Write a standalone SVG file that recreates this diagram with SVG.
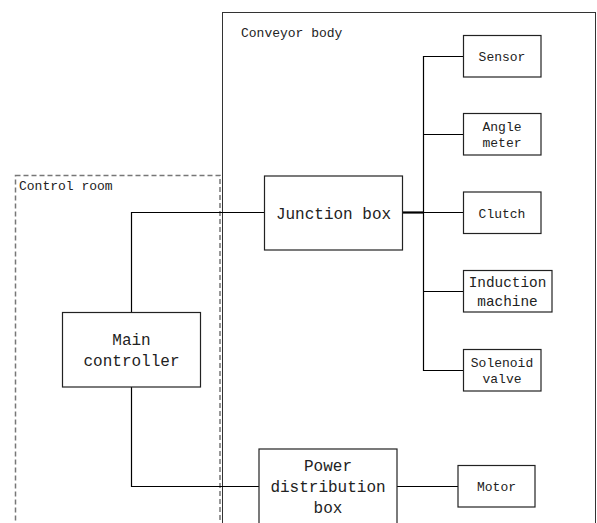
<svg xmlns="http://www.w3.org/2000/svg" width="597" height="523" viewBox="0 0 597 523">
<style>
.box{fill:#fff;stroke:#222;stroke-width:1.2}
.frame{fill:none;stroke:#333;stroke-width:1}
.dash{fill:none;stroke:#777;stroke-width:1.5;stroke-dasharray:5 3}
.c{fill:none;stroke:#000;stroke-width:1.2}
text{font-family:"Liberation Mono","DejaVu Sans Mono",monospace;fill:#222}
.s{font-size:13px}
.m{font-size:14.4px}
.l{font-size:16px}
.mid{text-anchor:middle}
</style>
<rect width="597" height="523" fill="#fff"/>
<g id="conveyor-body">
<rect class="frame" x="222.5" y="12.5" width="373" height="520"/>
<text class="s" x="241" y="37">Conveyor body</text>
</g>
<g id="control-room">
<rect class="dash" x="15.5" y="175.5" width="204.5" height="360"/>
<text class="s" x="19" y="190">Control room</text>
</g>
<g id="connectors">
<polyline class="c" points="131.5,312 131.5,212.5 264,212.5"/>
<polyline class="c" points="131.5,387 131.5,486.5 259,486.5"/>
<line class="c" x1="402" y1="212.5" x2="423" y2="212.5" style="stroke-width:2.2"/>
<line class="c" x1="423.5" y1="56" x2="423.5" y2="371"/>
<line class="c" x1="423" y1="56.5" x2="463" y2="56.5"/>
<line class="c" x1="423" y1="134.5" x2="463" y2="134.5"/>
<line class="c" x1="423" y1="212.5" x2="463" y2="212.5"/>
<line class="c" x1="423" y1="291.5" x2="463" y2="291.5"/>
<line class="c" x1="423" y1="370.5" x2="463" y2="370.5"/>
<line class="c" x1="397" y1="486.5" x2="458" y2="486.5"/>
</g>
<g id="main-controller">
<rect class="box" x="62.5" y="312.5" width="138" height="74.5"/>
<text class="l mid" x="131.5" y="345">Main</text>
<text class="l mid" x="131.5" y="366">controller</text>
</g>
<g id="junction-box">
<rect class="box" x="264.5" y="176" width="138" height="74"/>
<text class="l mid" x="333.5" y="218.5">Junction box</text>
</g>
<g id="power-distribution-box">
<rect class="box" x="259" y="449" width="138" height="90"/>
<text class="l mid" x="328" y="471">Power</text>
<text class="l mid" x="328" y="492">distribution</text>
<text class="l mid" x="328" y="512.5">box</text>
</g>
<g id="sensor">
<rect class="box" x="463.5" y="35.5" width="77.5" height="41.5"/>
<text class="s mid" x="502" y="60.5">Sensor</text>
</g>
<g id="angle-meter">
<rect class="box" x="463.5" y="113.5" width="77.5" height="41.5"/>
<text class="s mid" x="502" y="130.5">Angle</text>
<text class="s mid" x="502" y="147">meter</text>
</g>
<g id="clutch">
<rect class="box" x="463.5" y="192" width="77.5" height="41.5"/>
<text class="s mid" x="502" y="217.5">Clutch</text>
</g>
<g id="induction-machine">
<rect class="box" x="463.5" y="270.5" width="88.5" height="41.5"/>
<text class="m mid" x="507.5" y="287">Induction</text>
<text class="m mid" x="507.5" y="306">machine</text>
</g>
<g id="solenoid-valve">
<rect class="box" x="463.5" y="349.5" width="77.5" height="41.5"/>
<text class="s mid" x="502" y="366.5">Solenoid</text>
<text class="s mid" x="502" y="383">valve</text>
</g>
<g id="motor">
<rect class="box" x="458" y="465.5" width="77" height="41.5"/>
<text class="s mid" x="496.5" y="490.5">Motor</text>
</g>
</svg>
